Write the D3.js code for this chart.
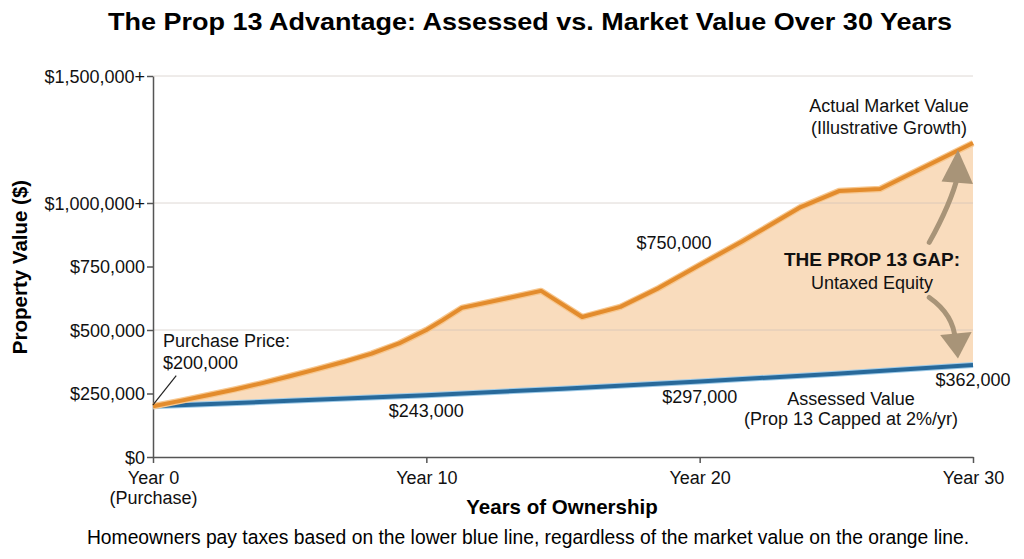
<!DOCTYPE html>
<html>
<head>
<meta charset="utf-8">
<script src="https://cdn.jsdelivr.net/npm/d3@7"></script>
<style>
  body { margin: 0; background: #fff; }
  svg { display: block; font-family: "Liberation Sans", Arial, Helvetica, sans-serif; }
  .axis path, .axis line { stroke: #555; stroke-width: 1.5; }
  .axis text { font-size: 18px; fill: #111; }
</style>
</head>
<body>
<div id="chart"></div>
<script>
// years of ownership
const marketYears = [0, 1, 2, 3, 4, 5, 6, 7, 8, 9, 10, 10.6, 11.3, 13, 14.2, 15.7, 17.1, 18.5, 20, 21.5, 23.7, 25.1, 26.6, 30];
// actual market value (illustrative)
const marketValues = [200000, 221000, 243000, 266000, 291000, 318000, 346000, 375000, 407000, 447000, 500000, 539000, 587000, 626000, 654000, 551000, 591000, 665000, 756000, 845000, 984000, 1047000, 1055000, 1236000];

// assessed value, prop 13 capped
const assessedYears = [0, 5, 10, 15, 20, 25, 30];
const assessedValues = [200000, 221000, 243000, 269000, 297000, 328000, 362000];

// axis ticks
const yTicks = [0, 250000, 500000, 750000, 1000000, 1500000];
const yTickLabels = ["$0", "$250,000", "$500,000", "$750,000", "$1,000,000+", "$1,500,000+"];
const gridTicks = [500000, 1000000, 1500000];
const xTicks = [0, 10, 20, 30];
const xTickLabels = [["Year 0", "(Purchase)"], ["Year 10"], ["Year 20"], ["Year 30"]];

function drawChart() {
    const width = 1024, height = 559;

    const svg = d3.select("#chart").append("svg")
        .attr("width", width)
        .attr("height", height);

    const x = d3.scaleLinear().domain([0, 30]).range([153, 973]);
    const y = d3.scaleLinear().domain([0, 1500000]).range([457, 76]);

    const market = marketYears.map((t, i) => ({ t, v: marketValues[i] }));
    const assessed = assessedYears.map((t, i) => ({ t, v: assessedValues[i] }));

    // assessed value at any year
    const assessedAt = d3.scaleLinear().domain(assessedYears).range(assessedValues);

    // gap area between the two lines
    const area = d3.area()
        .x(d => x(d.t))
        .y0(d => y(assessedAt(d.t)))
        .y1(d => y(d.v));

    svg.append("path")
        .datum(market)
        .attr("fill", "#f9dcbd")
        .attr("d", area);

    // grid lines
    svg.append("g")
        .selectAll("line")
        .data(gridTicks)
        .enter()
        .append("line")
        .attr("x1", x(0))
        .attr("x2", x(30))
        .attr("y1", d => y(d))
        .attr("y2", d => y(d))
        .attr("stroke", "#c9c0b8")
        .attr("stroke-opacity", 0.6)
        .attr("stroke-width", 1);

    // axes
    svg.append("g")
        .attr("class", "axis")
        .attr("transform", `translate(${x(0)},0)`)
        .call(d3.axisLeft(y).tickValues(yTicks).tickSize(6).tickSizeOuter(0)
            .tickFormat((d, i) => yTickLabels[i]))
        .call(g => g.selectAll("text").attr("x", -8).attr("dy", "0.36em"));

    const xAxis = svg.append("g")
        .attr("class", "axis")
        .attr("transform", `translate(0,${y(0)})`)
        .call(d3.axisBottom(x).tickValues(xTicks).tickSize(6).tickSizeOuter(0).tickFormat(""));

    xAxis.selectAll(".tick")
        .append("text")
        .attr("fill", "#111")
        .attr("text-anchor", "middle")
        .selectAll("tspan")
        .data((d, i) => xTickLabels[i])
        .enter()
        .append("tspan")
        .attr("x", 0)
        .attr("y", (d, i) => 27 + i * 20)
        .text(d => d);

    // lines
    const line = d3.line().x(d => x(d.t)).y(d => y(d.v));

    svg.append("path").datum(assessed)
        .attr("fill", "none").attr("stroke", "#9fcbe8").attr("stroke-width", 6)
        .attr("d", line);
    svg.append("path").datum(assessed)
        .attr("fill", "none").attr("stroke", "#28699a").attr("stroke-width", 4)
        .attr("d", line);

    svg.append("path").datum(market)
        .attr("fill", "none").attr("stroke", "#f7c78f").attr("stroke-width", 6.5)
        .attr("stroke-linejoin", "round")
        .attr("d", line);
    svg.append("path").datum(market)
        .attr("fill", "none").attr("stroke", "#e38c2d").attr("stroke-width", 4)
        .attr("stroke-linejoin", "round")
        .attr("d", line);

    // title and axis titles
    svg.append("text")
        .attr("x", 530).attr("y", 30)
        .attr("text-anchor", "middle")
        .attr("font-size", 24).attr("font-weight", "bold")
        .attr("textLength", 844).attr("lengthAdjust", "spacingAndGlyphs")
        .text("The Prop 13 Advantage: Assessed vs. Market Value Over 30 Years");

    svg.append("text")
        .attr("x", 562).attr("y", 514)
        .attr("text-anchor", "middle")
        .attr("font-size", 20.5).attr("font-weight", "bold")
        .text("Years of Ownership");

    svg.append("text")
        .attr("transform", "translate(27,267) rotate(-90)")
        .attr("text-anchor", "middle")
        .attr("font-size", 20.5).attr("font-weight", "bold")
        .text("Property Value ($)");

    svg.append("text")
        .attr("x", 528).attr("y", 544)
        .attr("text-anchor", "middle")
        .attr("font-size", 19.3)
        .text("Homeowners pay taxes based on the lower blue line, regardless of the market value on the orange line.");

    // annotations
    const note = (tx, ty, lines, opts = {}) => {
        const t = svg.append("text")
            .attr("text-anchor", opts.anchor || "middle")
            .attr("font-size", opts.size || 18)
            .attr("fill", "#111");
        lines.forEach((l, i) => {
            t.append("tspan")
                .attr("x", tx)
                .attr("y", ty + i * (opts.lh || 22))
                .attr("font-weight", opts.boldFirst && i === 0 ? "bold" : null)
                .attr("font-size", opts.boldFirst && i === 0 ? 19 : null)
                .text(l);
        });
    };

    note(163, 347, ["Purchase Price:", "$200,000"], { anchor: "start" });
    svg.append("line")
        .attr("x1", x(0)).attr("y1", y(205000))
        .attr("x2", x(0.85)).attr("y2", y(320000))
        .attr("stroke", "#222").attr("stroke-width", 1.2);

    note(x(10), 417, ["$243,000"]);
    note(x(20), 403, ["$297,000"]);
    note(x(30), 386, ["$362,000"]);
    note(851, 405, ["Assessed Value", "(Prop 13 Capped at 2%/yr)"], { lh: 20 });
    note(674, 249, ["$750,000"]);
    note(889, 112, ["Actual Market Value", "(Illustrative Growth)"], { lh: 22 });
    note(872, 266, ["THE PROP 13 GAP:", "Untaxed Equity"], { boldFirst: true, lh: 23 });

    // curved arrows
    const arrowColor = "#a89478";
    const arrow = (tail, ctrl, end, head) => {
        const p = d3.path();
        p.moveTo(x(tail[0]), y(tail[1]));
        p.quadraticCurveTo(x(ctrl[0]), y(ctrl[1]), x(end[0]), y(end[1]));
        svg.append("path")
            .attr("d", p.toString())
            .attr("fill", "none")
            .attr("stroke", arrowColor)
            .attr("stroke-width", 5)
            .attr("stroke-linecap", "round");
        svg.append("path")
            .attr("d", d3.line()(head.map(d => [x(d[0]), y(d[1])])) + "Z")
            .attr("fill", arrowColor);
    };

    // upward arrow toward market line
    arrow([28.4, 845000], [29.2, 1000000], [29.45, 1110000],
        [[28.85, 1085000], [29.45, 1210000], [30.0, 1075000]]);

    // downward arrow toward assessed line
    arrow([28.4, 628000], [29.3, 560000], [29.35, 460000],
        [[28.8, 480000], [29.45, 388000], [29.95, 492000]]);
}

window.onload = drawChart;
</script>
</body>
</html>
